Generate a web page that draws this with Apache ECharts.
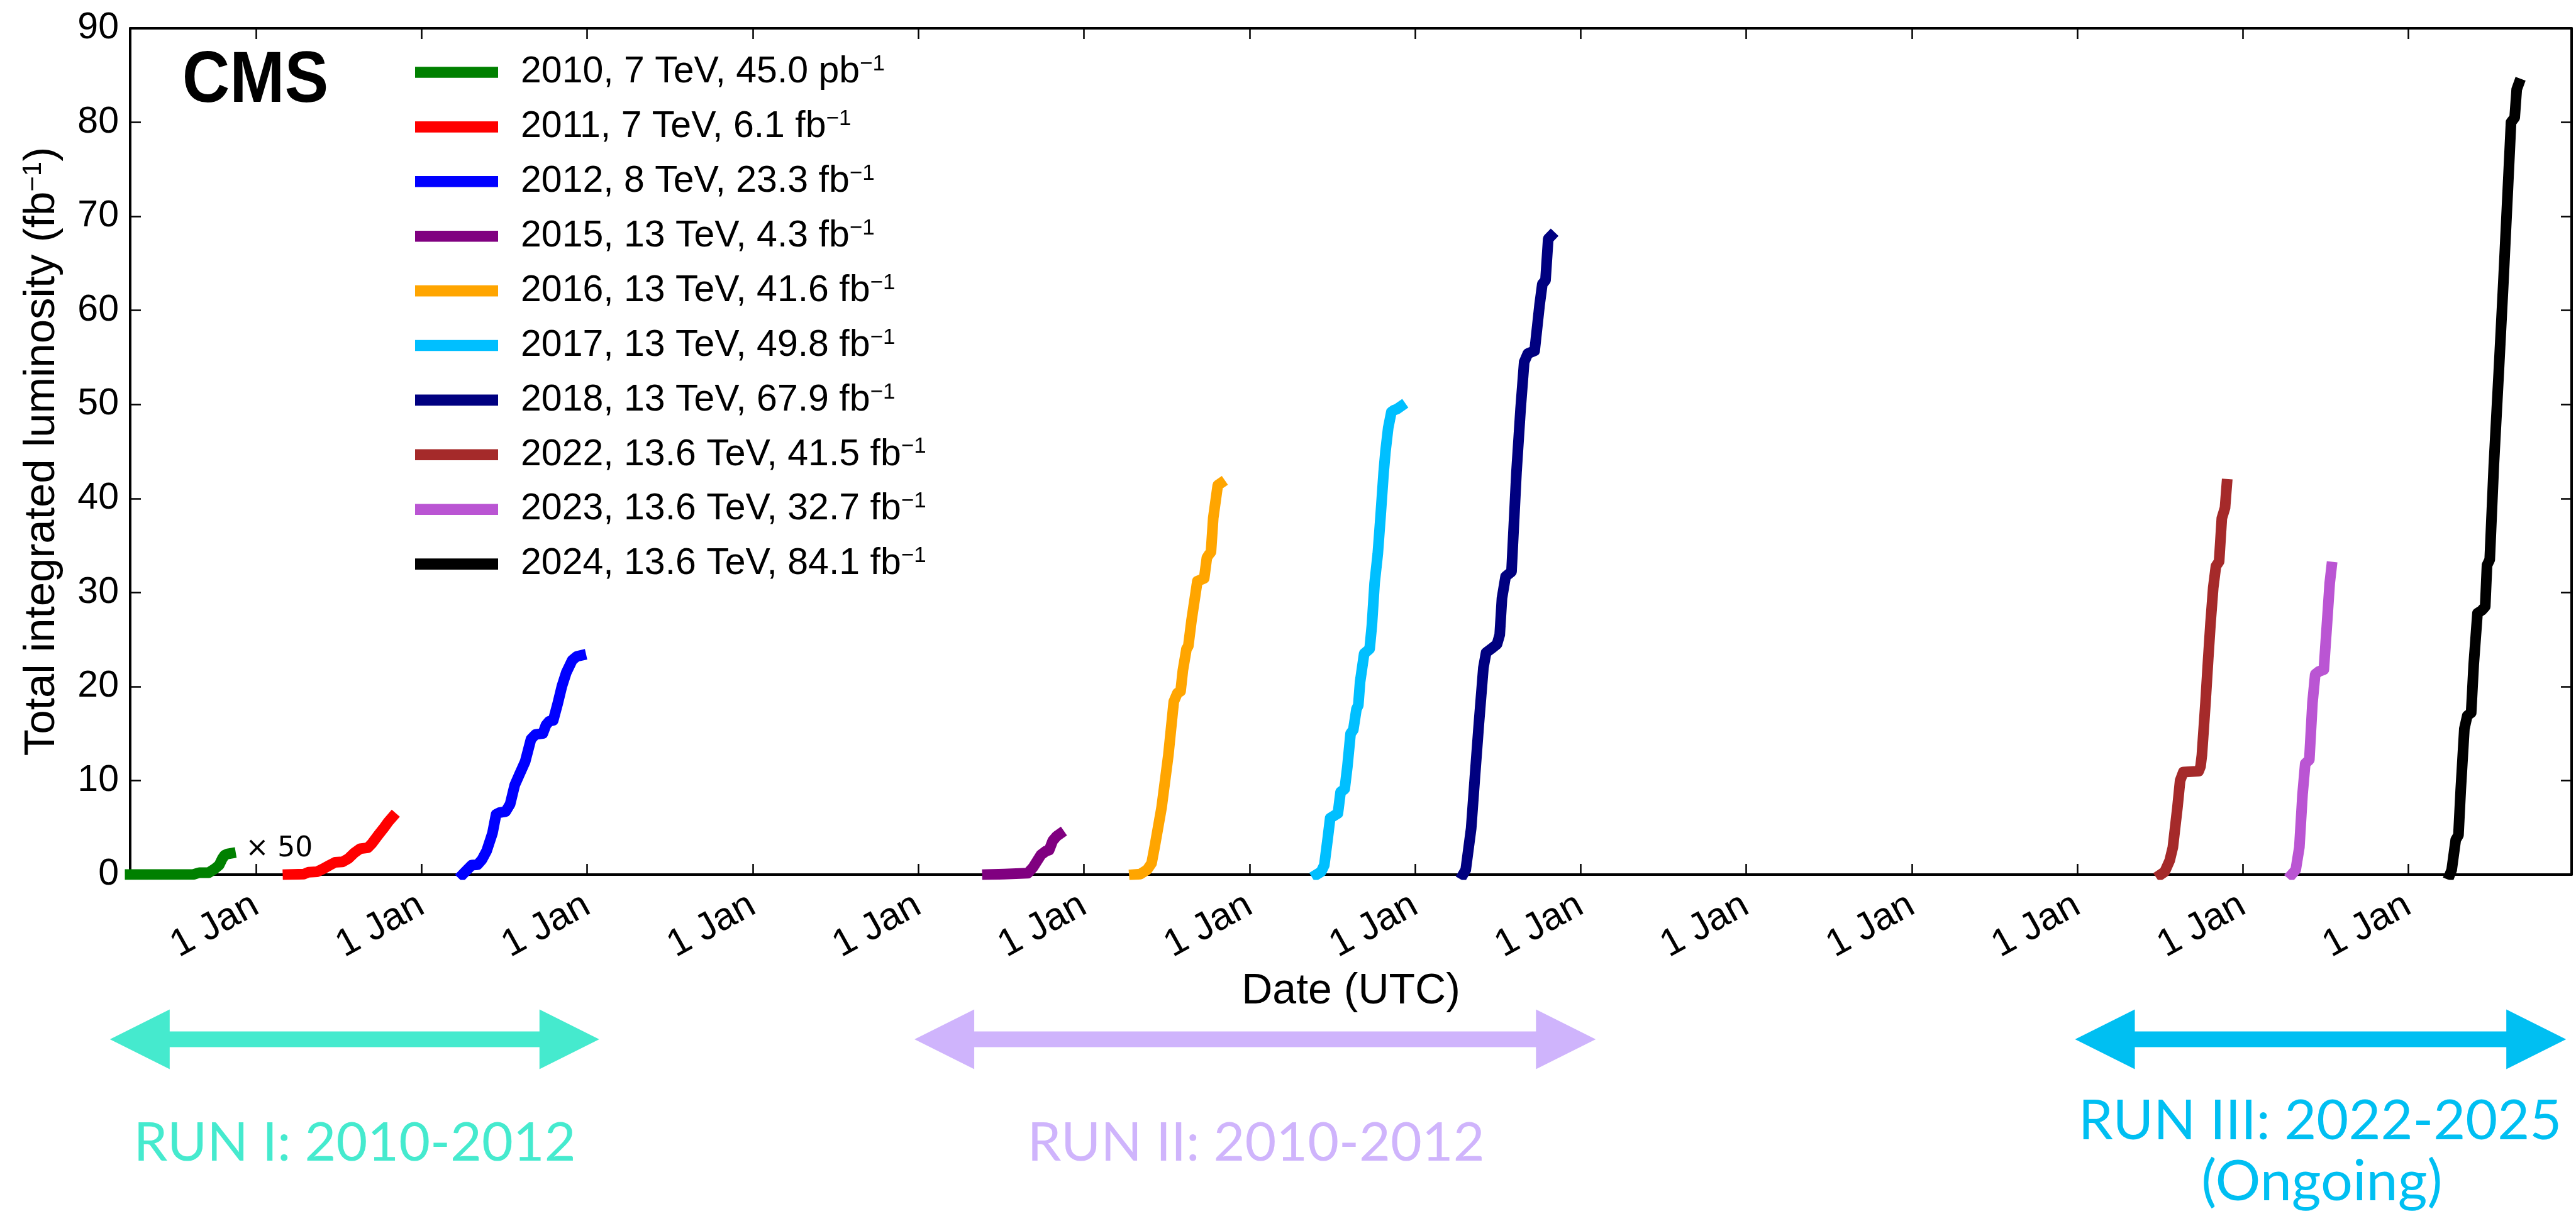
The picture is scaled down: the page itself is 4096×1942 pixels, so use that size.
<!DOCTYPE html>
<html>
<head>
<meta charset="utf-8">
<title>CMS total integrated luminosity</title>
<script src="https://cdn.jsdelivr.net/npm/echarts@6/dist/echarts.min.js"></script>
<style>
  html, body { margin: 0; padding: 0; background: #ffffff; }
  #chart { width: 4096px; height: 1942px; }
</style>
</head>
<body>
<div id="chart"></div>
<script>
const DAY_MS = 86400000;

// Legend entries, one per data-taking year
const years    = [2010, 2011, 2012, 2015, 2016, 2017, 2018, 2022, 2023, 2024];
const energies = ['7', '7', '8', '13', '13', '13', '13', '13.6', '13.6', '13.6'];
const totals   = ['45.0', '6.1', '23.3', '4.3', '41.6', '49.8', '67.9', '41.5', '32.7', '84.1'];
const units    = ['pb', 'fb', 'fb', 'fb', 'fb', 'fb', 'fb', 'fb', 'fb', 'fb'];
const colors   = ['#008000', '#ff0000', '#0000ff', '#800080', '#ffa500',
                  '#00bfff', '#000080', '#a52a2a', '#ba55d3', '#000000'];

// Cumulative delivered luminosity per year: day counted from 1 Jan, running total
const days2010 = [87.8, 228, 240, 261, 274, 284, 291, 296, 303, 309];
const lumi2010 = [0, 0.4, 4, 4, 12, 20, 34, 41, 44, 45];          // pb^-1
const scale2010 = 50 / 1000;                                        // pb^-1 -> fb^-1, magnified x50

const days2011 = [71, 106, 116, 135, 148, 163, 175, 191, 204, 217, 230, 247, 256, 270, 283, 292, 301];
const lumi2011 = [0, 0.05, 0.25, 0.3, 0.6, 1.0, 1.3, 1.35, 1.7, 2.3, 2.75, 2.85, 3.3, 4.2, 5.0, 5.6, 6.1];

const days2012 = [91, 101, 111, 124, 134, 144, 157, 165, 173, 186, 196, 206, 216, 229, 242, 252, 268, 275, 282, 291, 301, 310, 320, 333, 343, 352];
const lumi2012 = [0, 0.5, 1.0, 1.05, 1.6, 2.5, 4.4, 6.4, 6.6, 6.7, 7.5, 9.5, 10.6, 12.0, 14.4, 14.9, 15.0, 15.9, 16.3, 16.4, 18.2, 20.0, 21.5, 22.8, 23.2, 23.3];

const days2015 = [153, 190, 242, 254, 271, 282, 289, 297, 306, 312];
const lumi2015 = [0, 0.05, 0.15, 0.8, 2.1, 2.5, 2.6, 3.6, 4.1, 4.3];

const days2016 = [112, 125, 140, 150, 157, 172, 187, 199, 207, 214, 219, 227, 231, 238, 251, 266, 272, 276, 281, 286, 296, 302];
const lumi2016 = [0, 0.05, 0.5, 1.2, 3.0, 7.1, 12.7, 18.4, 19.3, 19.5, 21.7, 24.0, 24.3, 27.0, 31.2, 31.5, 33.7, 34.0, 34.3, 37.9, 41.4, 41.6];

const days2017 = [148, 158, 165, 173, 178, 188, 195, 201, 210, 216, 223, 229, 236, 240, 244, 253, 265, 270, 276, 283, 289, 296, 300, 306, 313, 319, 325, 334];
const lumi2017 = [0, 0.3, 1.0, 4.0, 6.0, 6.3, 6.5, 8.8, 9.1, 11.5, 15.0, 15.4, 17.6, 18.0, 20.5, 23.5, 24.0, 26.5, 31.0, 34.1, 38.0, 42.8, 45.0, 47.5, 49.2, 49.4, 49.5, 49.8];

const days2018 = [106, 112, 124, 132, 141, 151, 157, 168, 181, 187, 192, 200, 213, 224, 233, 241, 249, 264, 275, 281, 288, 294, 300];
const lumi2018 = [0, 0.5, 4.9, 10.2, 16.0, 22.0, 23.6, 24.0, 24.5, 25.5, 29.4, 31.7, 32.2, 42.8, 49.5, 54.5, 55.4, 55.7, 60.6, 62.8, 63.2, 67.6, 67.9];

const days2022 = [184, 193, 204, 211, 221, 227, 234, 268, 272, 275, 283, 289, 294, 300, 306, 313, 319, 326, 330];
const lumi2022 = [0, 0.3, 1.5, 2.9, 7.1, 10.0, 10.9, 11.0, 11.5, 12.7, 18.3, 23.0, 26.7, 30.5, 32.8, 33.3, 37.9, 39.0, 41.5];

const days2023 = [108, 117, 125, 132, 138, 147, 154, 160, 168, 179, 186, 192, 196];
const lumi2023 = [0, 0.5, 2.9, 8.5, 11.8, 12.2, 18.3, 21.3, 21.6, 21.8, 26.7, 31.0, 32.7];

const days2024 = [92, 96, 105, 111, 116, 124, 130.5, 139, 144.6, 153, 162.5, 170, 174, 180, 189, 200, 210, 220, 227, 235, 239.5, 244];
const lumi2024 = [0, 0.5, 3.7, 4.2, 9.0, 15.5, 16.9, 17.2, 22.3, 27.8, 28.1, 28.5, 32.9, 33.5, 43.5, 53.5, 62.9, 72.9, 80.0, 80.5, 83.5, 84.1];

const yearDays   = [days2010, days2011, days2012, days2015, days2016, days2017, days2018, days2022, days2023, days2024];
const yearLumi   = [lumi2010, lumi2011, lumi2012, lumi2015, lumi2016, lumi2017, lumi2018, lumi2022, lumi2023, lumi2024];
const yearScale  = [scale2010, 1, 1, 1, 1, 1, 1, 1, 1, 1];

// Date axis (UTC milliseconds): tick on every 1 January from 2011 to 2024
const tickYears = [2011, 2012, 2013, 2014, 2015, 2016, 2017, 2018, 2019, 2020, 2021, 2022, 2023, 2024];
const monthNames = ['Jan', 'Feb', 'Mar', 'Apr', 'May', 'Jun', 'Jul', 'Aug', 'Sep', 'Oct', 'Nov', 'Dec'];
const jan1 = tickYears.map(y => Date.UTC(y, 0, 1));
const xStart = Date.UTC(2010, 2, 29, 19);
const xEnd = Date.UTC(2024, 11, 26, 14);

const FONT = '"Liberation Sans", Arial, Helvetica, sans-serif';
const RUN_FONT = 'Lato, "Open Sans", sans-serif';

function seriesFor(i) {
  const y0 = Date.UTC(years[i], 0, 1);
  const data = yearDays[i].map((d, k) => [y0 + d * DAY_MS, yearLumi[i][k] * yearScale[i]]);
  const s = {
    name: String(years[i]),
    type: 'line',
    data: data,
    showSymbol: false,
    symbol: 'none',
    clip: true,
    silent: true,
    color: colors[i],
    itemStyle: { color: colors[i] },
    lineStyle: { color: colors[i], width: 17, cap: 'square', join: 'round' },
    emphasis: { disabled: true },
    z: 3 + i
  };
  if (i === 0) {
    s.endLabel = {
      show: true,
      formatter: '\u00d7 50',
      fontFamily: '"DejaVu Sans", sans-serif',
      fontSize: 44,
      color: '#000',
      distance: 24,
      offset: [0, -7]
    };
  }
  return s;
}

// Double-headed arrow marking a run period
function arrow(x1, x2, yc, color) {
  const hl = 95, hh = 47.5, sh = 12.5;
  return {
    type: 'polygon',
    silent: true,
    shape: {
      points: [
        [x1, yc], [x1 + hl, yc - hh], [x1 + hl, yc - sh], [x2 - hl, yc - sh], [x2 - hl, yc - hh],
        [x2, yc], [x2 - hl, yc + hh], [x2 - hl, yc + sh], [x1 + hl, yc + sh], [x1 + hl, yc + hh]
      ]
    },
    style: { fill: color }
  };
}

function label(text, x, y, font, color, scaleX) {
  return {
    type: 'text', x: x, y: y, silent: true, scaleX: scaleX || 1,
    style: { text: text, font: font, fill: color,
             align: 'center', textAlign: 'center',
             verticalAlign: 'middle', textVerticalAlign: 'middle' }
  };
}

const axisLineStyle = { color: '#000', width: 4 };
const tickStyle = { color: '#000', width: 2.5 };
const dateLabel = v => { const d = new Date(v); return d.getUTCDate() + ' ' + monthNames[d.getUTCMonth()]; };

const option = {
  animation: false,
  backgroundColor: '#ffffff',
  textStyle: { fontFamily: FONT },
  grid: { left: 207, top: 45, width: 3882, height: 1346, containLabel: false, outerBoundsMode: 'none' },
  xAxis: [
    {
      type: 'value', position: 'bottom', min: xStart, max: xEnd, scale: true,
      name: 'Date (UTC)', nameLocation: 'middle', nameGap: 152, nameMoveOverlap: false,
      nameTextStyle: { fontSize: 68, color: '#000', fontFamily: FONT },
      axisLine: { show: true, onZero: false, lineStyle: axisLineStyle },
      axisTick: { show: true, inside: true, length: 17, lineStyle: tickStyle, customValues: jan1 },
      axisLabel: {
        show: true, customValues: jan1, rotate: 29, margin: 45, hideOverlap: false,
        fontSize: 61, color: '#000', fontFamily: FONT, formatter: dateLabel
      },
      splitLine: { show: false }, minorTick: { show: false }
    },
    {
      type: 'value', position: 'top', min: xStart, max: xEnd, scale: true,
      axisLine: { show: true, onZero: false, lineStyle: axisLineStyle },
      axisTick: { show: true, inside: true, length: 17, lineStyle: tickStyle, customValues: jan1 },
      axisLabel: { show: false },
      splitLine: { show: false }
    }
  ],
  yAxis: [
    {
      type: 'value', position: 'left', min: 0, max: 90, interval: 10,
      name: '{t|Total integrated luminosity (fb}{sup|\u22121}{t|)}',
      nameLocation: 'middle', nameGap: 106, nameMoveOverlap: false,
      nameTextStyle: {
        color: '#000', fontFamily: FONT, fontSize: 69,
        rich: {
          t: { fontSize: 69, lineHeight: 69, fontFamily: FONT, color: '#000', verticalAlign: 'middle' },
          sup: { fontSize: 42, lineHeight: 42, fontFamily: FONT, color: '#000', verticalAlign: 'top' }
        }
      },
      axisLine: { show: true, onZero: false, lineStyle: axisLineStyle },
      axisTick: { show: true, inside: true, length: 17, lineStyle: tickStyle },
      axisLabel: { show: true, margin: 18, fontSize: 59, color: '#000', fontFamily: FONT },
      splitLine: { show: false }
    },
    {
      type: 'value', position: 'right', min: 0, max: 90, interval: 10,
      axisLine: { show: true, onZero: false, lineStyle: axisLineStyle },
      axisTick: { show: true, inside: true, length: 17, lineStyle: tickStyle },
      axisLabel: { show: false },
      splitLine: { show: false }
    }
  ],
  legend: {
    show: true, orient: 'vertical', left: 660, top: 85, padding: 0,
    icon: 'rect', itemWidth: 132, itemHeight: 17.6, itemGap: 27.4,
    selectedMode: false,
    data: years.map(String),
    formatter: name => {
      const i = years.indexOf(Number(name));
      return '{gap| }{t|' + years[i] + ', ' + energies[i] + ' TeV, ' + totals[i] + ' ' + units[i] + '}{sup|\u22121}';
    },
    textStyle: {
      color: '#000', fontFamily: FONT, fontSize: 59,
      rich: {
        gap: { width: 31, fontSize: 59, lineHeight: 60 },
        t: { fontSize: 59, lineHeight: 60, fontFamily: FONT, color: '#000', verticalAlign: 'middle' },
        sup: { fontSize: 35, lineHeight: 35, fontFamily: FONT, color: '#000', verticalAlign: 'top' }
      }
    }
  },
  series: years.map((y, i) => seriesFor(i)),
  graphic: [
    label('CMS', 406, 130, 'bold 115px ' + FONT, '#000', 0.91),
    arrow(174.8, 952.8, 1653, '#45eace'),
    arrow(1454.1, 2537.3, 1653, '#cfb4fc'),
    arrow(3299.5, 4080.2, 1653, '#00bff2'),
    label('RUN I: 2010-2012', 564, 1818, '86px ' + RUN_FONT, '#45eace'),
    label('RUN II: 2010-2012', 1997, 1818, '86px ' + RUN_FONT, '#cfb4fc'),
    label('RUN III: 2022-2025', 3689, 1784, '88px ' + RUN_FONT, '#00bff2'),
    label('(Ongoing)', 3692, 1880, '90px ' + RUN_FONT, '#00bff2')
  ]
};

const chart = echarts.init(document.getElementById('chart'), null, { renderer: 'canvas' });
chart.setOption(option);
</script>
</body>
</html>
